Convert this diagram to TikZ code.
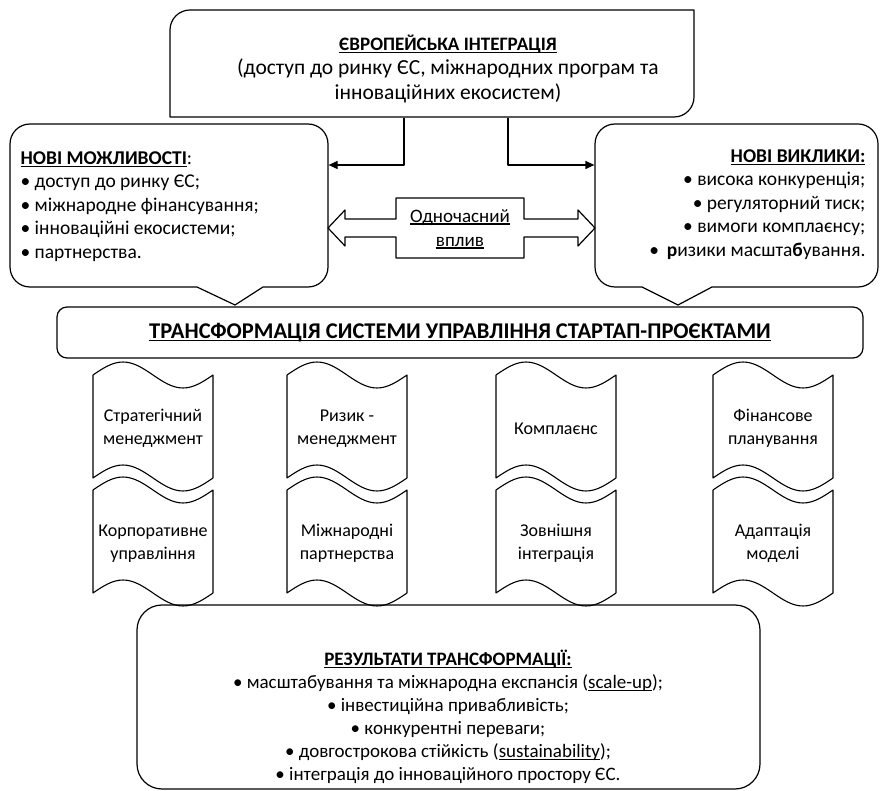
\documentclass[tikz,border=0pt]{standalone}
\usepackage{fontspec}
\setmainfont{Carlito}
\usetikzlibrary{arrows.meta,calc}
\newcommand\uln[1]{\setbox0\hbox{#1}\rlap{\rule[-2.3pt]{\wd0}{1.1pt}}\box0}
\newcommand\ulnb[1]{\setbox0\hbox{#1}\rlap{\rule[-2.8pt]{\wd0}{1.6pt}}\box0}
\newcommand\mytape[6]{%
  \draw[tapeline] (#2,#3) sin (#2+#4/4,#3-13) cos (#2+#4/2,#3) sin (#2+3*#4/4,#3+13) cos (#2+#4,#3)
    -- (#2+#4,#3+#5) sin (#2+3*#4/4,#3+#5+13) cos (#2+#4/2,#3+#5) sin (#2+#4/4,#3+#5-13) cos (#2,#3+#5) -- cycle;
  \node[tapetxt, align=center] (#1) at (#2+#4/2,#3+#5/2+2) {#6};
}
\begin{document}
\begin{tikzpicture}[x=1pt,y=-1pt,
  line width=1.2pt, line join=round,
  txt/.style={inner sep=0pt, font=\fontsize{19.5}{23.5}\selectfont},
  tapetxt/.style={inner sep=0pt, font=\fontsize{18}{23}\selectfont},
  box/.style={inner sep=0pt},
  arr/.style={-{Triangle[length=9pt,width=8pt]}},
  tapeline/.style={draw, line width=1.1pt}
]
\useasboundingbox (0,0) rectangle (884,791);

% ---- top box
\draw (170,117) -- (170,30) arc[start angle=180, end angle=270, radius=20] -- (694,10)
  -- (694,97) arc[start angle=0, end angle=90, radius=20] -- cycle;
\node[box, minimum width=524, minimum height=107] (top) at (432,63.5) {};
\node[inner sep=0pt, align=center, font=\fontsize{21.5}{24.5}\selectfont] (toptxt) at (448,69)
  {{\fontsize{19}{24.5}\selectfont\textbf{\ulnb{ЄВРОПЕЙСЬКА ІНТЕГРАЦІЯ}}}\\(доступ до ринку ЄС, міжнародних програм та\\інноваційних екосистем)};

% ---- left callout
\node[box, minimum width=318, minimum height=163] (opp) at (169,205.5) {};
\draw (30,124) -- (308,124) arc[start angle=270, end angle=360, radius=20] -- (328,267)
  arc[start angle=0, end angle=90, radius=20] -- (263,287) -- (235,305) -- (197,287) -- (30,287)
  arc[start angle=90, end angle=180, radius=20] -- (10,144) arc[start angle=180, end angle=270, radius=20] -- cycle;
\node[txt, align=left, anchor=north west] (opptxt) at (20,151)
  {\textbf{\ulnb{НОВІ МОЖЛИВОСТІ}}:\\• доступ до ринку ЄС;\\• міжнародне фінансування;\\• інноваційні екосистеми;\\• партнерства.};

% ---- right callout
\node[box, minimum width=283, minimum height=163] (chal) at (736.5,205.5) {};
\draw (615,124) -- (858,124) arc[start angle=270, end angle=360, radius=20] -- (878,267)
  arc[start angle=0, end angle=90, radius=20] -- (712,287) -- (678,305) -- (642,287) -- (615,287)
  arc[start angle=90, end angle=180, radius=20] -- (595,144) arc[start angle=180, end angle=270, radius=20] -- cycle;
\node[txt, align=right, anchor=north east] (chaltxt) at (866,149)
  {\textbf{\ulnb{НОВІ ВИКЛИКИ:}}\\• висока конкуренція;\\• регуляторний тиск;\\• вимоги комплаєнсу;\\•\, \textbf{р}изики масшта\textbf{б}ування.};

% ---- thin arrows
\coordinate (v1) at (404,0);
\coordinate (v2) at (508,0);
\coordinate (h1) at (0,165);
\draw[arr] (top.south -| v1) |- (opp.east |- h1);
\draw[arr] (top.south -| v2) |- (chal.west |- h1);

% ---- double block arrow with text
\draw (328,228) -- (345,210) -- (345,219) -- (396,219) -- (396,198) -- (524,198) -- (524,219)
  -- (578,219) -- (578,210) -- (595,228) -- (578,246) -- (578,237) -- (524,237) -- (524,258)
  -- (396,258) -- (396,237) -- (345,237) -- (345,246) -- (328,228) -- cycle;
\node[txt, align=center, font=\fontsize{19}{24}\selectfont] (sim) at (460,229) {\uln{Одночасний}\\\uln{вплив}};

% ---- bar
\node[draw, rounded corners=10pt, minimum width=806, minimum height=51, inner sep=0pt,
  font=\fontsize{22.5}{24}\selectfont\bfseries] (bar) at (460,332.5)
  {\ulnb{ТРАНСФОРМАЦІЯ СИСТЕМИ УПРАВЛІННЯ СТАРТАП-ПРОЄКТАМИ}};

% ---- tapes
\mytape{t1}{93}{375}{120}{103}{Стратегічний\\менеджмент}
\mytape{t2}{287}{375}{120}{103}{Ризик -\\менеджмент}
\mytape{t3}{496}{375}{120}{103}{Комплаєнс}
\mytape{t4}{713}{375}{120}{103}{Фінансове\\планування}
\mytape{t5}{93}{490}{120}{103}{Корпоративне\\управління}
\mytape{t6}{287}{490}{120}{103}{Міжнародні\\партнерства}
\mytape{t7}{496}{490}{120}{103}{Зовнішня\\інтеграція}
\mytape{t8}{713}{490}{120}{103}{Адаптація\\моделі}

% ---- results
\node[draw, rounded corners=25pt, minimum width=623, minimum height=184, inner sep=0pt] (res) at (448.5,697) {};
\node[inner sep=0pt, align=center, font=\fontsize{19}{23}\selectfont] (restxt) at (448,717)
  {\textbf{\ulnb{РЕЗУЛЬТАТИ ТРАНСФОРМАЦІЇ:}}\\
   • масштабування та міжнародна експансія (\uln{scale-up});\\
   • інвестиційна привабливість;\\
   • конкурентні переваги;\\
   • довгострокова стійкість (\uln{sustainability});\\
   • інтеграція до інноваційного простору ЄС.};
\end{tikzpicture}
\end{document}
